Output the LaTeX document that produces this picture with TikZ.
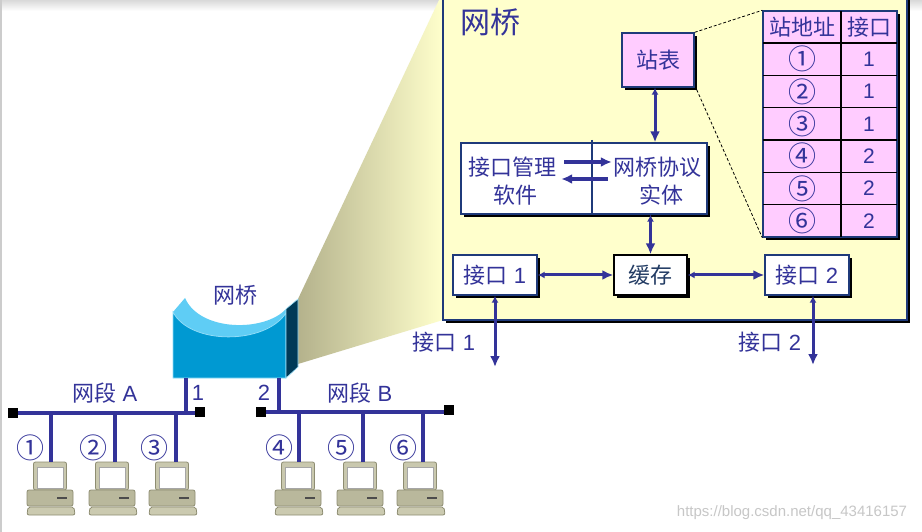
\documentclass[tikz,border=0pt]{standalone}
\usepackage{fontspec}
\setmainfont{Liberation Sans}
\newfontfamily\cjk{Noto Sans CJK SC}
\usetikzlibrary{shadows,arrows.meta,calc}
\definecolor{tb}{RGB}{51,51,153}
\definecolor{boxblue}{RGB}{31,58,122}
\definecolor{ly}{RGB}{255,255,204}
\definecolor{pinkfill}{RGB}{255,204,255}
\definecolor{darktext}{RGB}{35,60,100}
\definecolor{beamL}{RGB}{180,178,140}
\definecolor{topblue}{RGB}{95,205,245}
\definecolor{frontblue}{RGB}{0,153,210}
\definecolor{sideblue}{RGB}{0,58,87}
\definecolor{pcbody}{RGB}{201,200,174}
\definecolor{pcbase}{RGB}{185,184,156}
\definecolor{pckey}{RGB}{203,202,176}
\definecolor{pcedge}{RGB}{142,141,114}
\tikzset{
  shadowed/.style={drop shadow={shadow xshift=3bp,shadow yshift=-3bp,fill=black,opacity=1}},
  box/.style={draw=boxblue, line width=1.4bp, fill=white, shadowed, inner sep=0},
  txt/.style={text=tb, font=\fontsize{22bp}{24bp}\selectfont, inner sep=0},
  circ/.style={text=tb, font=\fontsize{28bp}{30bp}\selectfont, inner sep=0},
  num/.style={text=tb, font=\fontsize{21bp}{24bp}\selectfont, inner sep=0},
  arr/.style={draw=tb, line width=3bp, {Latex[length=7bp,width=7bp]}-{Latex[length=11bp,width=10bp]}},
  onearr/.style={draw=tb, line width=3.2bp, -{Latex[length=11bp,width=10bp]}},
  net/.style={draw=tb, line width=3.4bp},
  endsq/.style={fill=black, minimum size=10bp, inner sep=0},
  zoomline/.style={draw=black, line width=0.8bp, dash pattern=on 3bp off 2bp},
  computer/.pic={
    \filldraw[fill=pcbody, draw=pcedge, line width=0.8bp, rounded corners=2bp] (-16.5,0) rectangle (16.5,28);
    \filldraw[fill=white, draw=gray!70, line width=0.6bp] (-13,5) rectangle (13,26);
    \filldraw[fill=pcbase, draw=pcedge, line width=0.8bp, rounded corners=2bp] (-23,28) rectangle (23,44);
    \draw[black!70, line width=1.4bp] (7,36) -- (17,36);
    \filldraw[fill=pckey, draw=pcedge, line width=0.8bp, rounded corners=2bp] (-22,45) -- (24,45) -- (25,53) -- (-23,53) -- cycle;
  }
}
\begin{document}
\begin{tikzpicture}[x=1bp,y=-1bp]
\useasboundingbox (0,0) rectangle (922,532);
\fill[white] (0,0) rectangle (922,532);
% screenshot edges
\shade[top color=black!15, bottom color=white] (0,0) rectangle (922,11);
\draw[black!20, line width=2bp] (1,0) -- (1,532);

% zoom beam
\shade[left color=beamL, right color=ly] (298,299) -- (440,-2) -- (443,-2) -- (443,320) -- (298,364) -- cycle;

% big yellow bridge box
\node[draw=boxblue, line width=1.4bp, fill=ly, shadowed, minimum width=464bp, minimum height=325bp, inner sep=0] (bridgebox) at (675,157.5) {};
\node[txt, font=\fontsize{30bp}{32bp}\selectfont] (title) at (490,22) {\cjk 网桥};

% station table box
\node[box, fill=pinkfill, minimum width=72bp, minimum height=54bp] (zb) at (658,60) {};
\node[txt] (zbt) at (zb.center) {\cjk 站表};

% table
\node[draw=boxblue, line width=1.4bp, fill=pinkfill, shadowed, minimum width=134bp, minimum height=226bp, inner sep=0] (tbl) at (830,124) {};
\draw[black, line width=2.2bp] (763,43) -- (897,43);
\foreach \k in {1,...,5} { \draw[black, line width=1.1bp] (763,{43+32.33*\k}) -- (897,{43+32.33*\k}); }
\draw[black, line width=1.1bp] (841,11) -- (841,237);
\draw[boxblue, line width=1.4bp] (tbl.north west) rectangle (tbl.south east);
\node[txt] (h1) at (802,27) {\cjk 站地址};
\node[txt] (h2) at (869,27) {\cjk 接口};
\foreach \c/\p [count=\i] in {①/1,②/1,③/1,④/2,⑤/2,⑥/2} {
  \node[circ] (addr\i) at (802,{43+32.33*(\i-0.5)}) {\cjk \c};
  \node[num] (port\i) at (869,{43+32.33*(\i-0.5)}) {\p};
}
\draw[zoomline] (zb.north east) -- (tbl.north west);
\draw[zoomline] ([xshift=2bp,yshift=-2bp]zb.south east) -- (tbl.south west);

% interface management / protocol entity
\node[box, minimum width=246bp, minimum height=71bp] (ifb) at (584,178.5) {};
\coordinate (divtop) at (592,140);
\draw[boxblue, line width=1.1bp] (divtop) -- (divtop |- ifb.south);
\node[txt] (im1) at (512,167) {\cjk 接口管理};
\node[txt] (im2) at (515,195) {\cjk 软件};
\node[txt] (pe1) at (657,167) {\cjk 网桥协议};
\node[txt] (pe2) at (661,195) {\cjk 实体};
\draw[onearr] ([xshift=8bp,yshift=5bp]im1.east) -- ([xshift=-1bp,yshift=5bp]pe1.west);
\draw[onearr] ([xshift=-5bp,yshift=-12bp]pe1.west) -- ([xshift=5bp,yshift=-12bp]im1.east);

% buffer and interfaces
\node[box, draw=black, minimum width=73bp, minimum height=40bp] (hc) at (650.5,275) {};
\node[txt, text=darktext] (hct) at (hc.center) {\cjk 缓存};
\node[box, minimum width=84bp, minimum height=40bp] (if1) at (495,275) {};
\node[txt] (if1t) at (if1.center) {{\cjk 接口} 1};
\node[box, minimum width=84bp, minimum height=40bp] (if2) at (807,275) {};
\node[txt] (if2t) at (if2.center) {{\cjk 接口} 2};

\draw[arr] ([xshift=-3bp]zb.south) -- ([xshift=-3bp]zb.south |- ifb.north);
\draw[arr] (hc.north |- ifb.south) -- (hc.north);
\draw[arr] (if1.east) -- (hc.west);
\draw[arr] (hc.east) -- (if2.west);
\coordinate (out1) at (495,367);
\coordinate (out2) at (813,365);
\draw[arr] (out1 |- if1.south) -- (out1);
\draw[arr] (out2 |- if2.south) -- (out2);
\node[txt] (lab1) at (444,342) {{\cjk 接口} 1};
\node[txt] (lab2) at (770,342) {{\cjk 接口} 2};

% bridge icon
\fill[topblue] (173,312) -- (185,298) .. controls (200,332) and (265,332) .. (286,309) -- (286,313) .. controls (265,345) and (190,345) .. (173,312) -- cycle;
\filldraw[fill=frontblue, draw=topblue!70, line width=0.8bp] (173,312) .. controls (190,345) and (265,345) .. (286,313) -- (286,378) -- (173,378) -- cycle;
\filldraw[fill=sideblue, draw=topblue!60, line width=0.6bp] (286,309) -- (298,299) -- (298,367) -- (286,378) -- cycle;
\node[txt] (bricon) at (235,295) {\cjk 网桥};

% network segments
\node[endsq] (aL) at (13,413) {};
\node[endsq] (aR) at (200,412) {};
\node[endsq] (bL) at (261,412) {};
\node[endsq] (bR) at (449,410) {};
\draw[net] (aL.center) -- (aR.center |- aL.center);
\draw[net] (bL.center) -- (bR.center |- bL.center);
\node[endsq] at (aL) {};
\node[endsq] at (aR) {};
\node[endsq] at (bL) {};
\node[endsq] at (bR) {};
\coordinate (p1) at (186,378);
\coordinate (p2) at (279,378);
\draw[net] (p1) -- (p1 |- aL);
\draw[net] (p2) -- (p2 |- bL);
\node[txt] (n1) at (198,393) {1};
\node[txt] (n2) at (264,393) {2};
\node[txt] (segA) at (105,393) {{\cjk 网段} A};
\node[txt] (segB) at (360,393) {{\cjk 网段} B};

% computers
\foreach \cx/\dx/\lx/\c [count=\i] in {50/51/30/①,112/115/93/②,172/176/154/③,298/299/279/④,360/363/341/⑤,420/423/403/⑥} {
  \coordinate (top\i) at (\dx,462);
  \pic at (\cx,462) {computer};
  \node[circ] (st\i) at (\lx,448) {\cjk \c};
}
\foreach \i in {1,2,3} { \draw[net] (top\i |- aL) -- (top\i); }
\foreach \i in {4,5,6} { \draw[net] (top\i |- bL) -- (top\i); }

% watermark
\node[text=black!22, font=\fontsize{15bp}{17bp}\selectfont, inner sep=0] (wm) at (792,513) {https://blog.csdn.net/qq\_43416157};
\end{tikzpicture}
\end{document}
